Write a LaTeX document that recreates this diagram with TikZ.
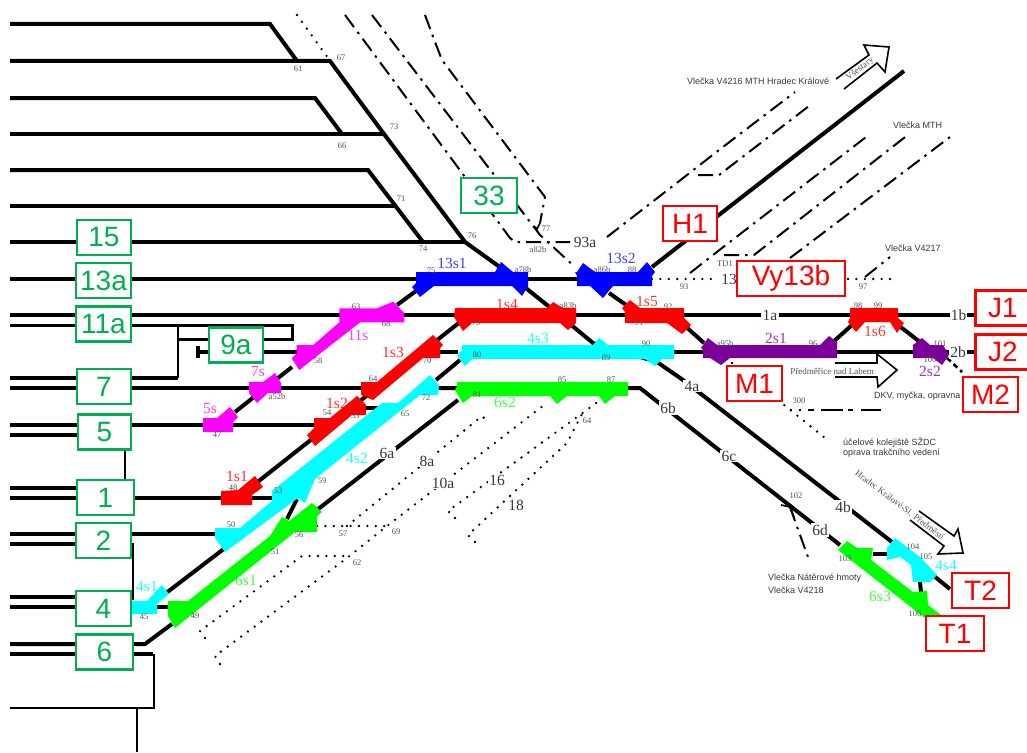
\documentclass[tikz,border=0pt]{standalone}
\usepackage{fontspec}
\setmainfont{Liberation Serif}
\setsansfont{Liberation Sans}
\definecolor{boxgreen}{HTML}{00B050}
\definecolor{trackpurple}{HTML}{7B0099}
\definecolor{labpurple}{HTML}{A030C0}
\definecolor{smallgrey}{HTML}{505050}
\definecolor{trackcyan}{HTML}{00FFFF}
\definecolor{trackmag}{HTML}{FF00FF}
\definecolor{trackgreen}{HTML}{00FF00}
\definecolor{trackred}{HTML}{FF0000}
\definecolor{trackblue}{HTML}{0000FF}
\definecolor{labblue}{HTML}{4040FF}
\definecolor{labred}{HTML}{FF3030}
\definecolor{labgreen}{HTML}{40FF40}
\definecolor{labcyan}{HTML}{20FFFF}
\definecolor{labmag}{HTML}{FF40FF}
\tikzset{
  track/.style={line width=4pt,black},
  thinline/.style={line width=2pt,black},
  dotline/.style={line width=2.6pt,line cap=round,dash pattern=on 0pt off 8.4pt},
  dashdotline/.style={line width=2pt,dash pattern=on 15pt off 6pt on 2.5pt off 6pt},
  outline/.style={line width=1.6pt,black,line join=miter},
  gbox/.style={draw=boxgreen,line width=2.5pt,fill=white,inner sep=0pt,minimum width=#1,minimum height=35pt,font=\sffamily\fontsize{28}{28}\selectfont,text=boxgreen},
  gbox/.default=55pt,
  rbox/.style={draw=trackred,line width=2.5pt,fill=white,inner sep=0pt,minimum width=#1,minimum height=35pt,font=\sffamily\fontsize{28}{28}\selectfont,text=trackred},
  rbox/.default=55pt,
  tracklab/.style={fill=white,inner sep=1.2pt,font=\fontsize{15.5}{15.5}\selectfont,text=smallgrey!70!black},
  colab/.style={inner sep=0pt,font=\fontsize{15.5}{15.5}\selectfont},
  smalllab/.style={inner sep=0pt,font=\fontsize{8.5}{8.5}\selectfont,text=smallgrey},
  note/.style={inner sep=0pt,font=\sffamily\fontsize{9}{10}\selectfont,text=smallgrey!70!black},
  serifnote/.style={inner sep=0pt,font=\fontsize{9}{9}\selectfont,text=smallgrey},
}
\begin{document}
\begin{tikzpicture}[x=1pt,y=-1pt]
\useasboundingbox (0,0) rectangle (1027,752);
\fill[white] (0,0) rectangle (1027,752);
% main horizontal tracks, left yard
\draw[track] (10,24) -- (270,24) -- (297,61);
\draw[track] (10,61) -- (330,61) -- (384,134) -- (465,242) -- (497,265) -- (547,305) -- (593,343) -- (657,362) -- (683,380) -- (892,542) -- (950,589);
\draw[track] (10,98) -- (315,98) -- (342,134);
\draw[track] (10,134) -- (384,134);
\draw[track] (10,170) -- (368,170) -- (423,242);
\draw[track] (10,206) -- (395,206);
\draw[track] (10,242) -- (465,242);
\draw[track] (10,279) -- (416,279);
\draw[track] (528,279) -- (577,279);
\draw[track] (10,315) -- (975,315);
\draw[track] (198,352) -- (300,352);
\draw[track] (197.5,346) -- (197.5,358);
\draw[track] (440,352) -- (458,352);
\draw[track] (674,352) -- (975,352);
\draw[track] (10,388) -- (361,388);
\draw[track] (438,388) -- (640,388) -- (840,545);
\draw[track] (10,425) -- (314,425);
\draw[track] (366,408) -- (383,408);
\draw[track] (10,498) -- (272,498);
\draw[track] (10,534) -- (215,534);
\draw[track] (10,488) -- (78,488);
\draw[track] (10,435) -- (78,435);
\draw[track] (10,378) -- (178,378);
\draw[track] (10,544) -- (78,544);
\draw[track] (10,597) -- (78,597);
\draw[track] (10,607) -- (168,607);
\draw[track] (10,644) -- (145,644) -- (172,624);
\draw[track] (10,654) -- (153,654);
\draw[track] (317,510) -- (458,400);
\draw[track] (157,600) -- (225,548);
\draw[track] (436,380) -- (460,360);
\draw[track] (255,484) -- (460,322);
\draw[track] (235,412) -- (292,367);
\draw[track] (397,305) -- (420,288);
\draw[track] (287,519) -- (297,499);
\draw[track] (609,293) -- (629,307);
\draw[track] (684,325) -- (704,343);
\draw[track] (833,342) -- (852,325);
\draw[track] (898,325) -- (920,342);
\draw[track] (652,267) -- (904,71);
\draw[track] (873,554) -- (887,554);
\draw[track] (920,582) -- (921,592);
% thin connecting lines
\draw[line width=3pt] (10,325) -- (292,325) -- (292,339) -- (178,339);
\draw[thinline] (178,325) -- (178,378);
\draw[thinline] (125,449) -- (125,480);
\draw[thinline] (133,543) -- (133,600);
\draw[thinline] (153.5,654) -- (153.5,708) -- (10,708);
\draw[thinline] (137,708) -- (137,752);
% dash-dotted sidings
\draw[dotline] (297,15) -- (328,58);
\draw[dashdotline] (345,15) -- (465,177) -- (510,238) -- (515,242) -- (570,242);
\draw[dashdotline] (372,15) -- (540,235) -- (575,267);
\draw[dashdotline] (425,15) -- (435,42) -- (442,60) -- (545,197) -- (540,223);
\draw[line width=1.6pt] (534,226) -- (537,229) -- (540,223);
\draw[dashdotline] (607,237) -- (687,175) -- (719,150) -- (795,92);
\draw[dashdotline] (698,175) -- (719,175) -- (809,106);
\draw[dashdotline] (690,273) -- (722,248) -- (870,134);
\draw[dashdotline] (724,255) -- (754,255) -- (909,134);
\draw[dashdotline] (790,258) -- (954,134);
\draw[dashdotline] (865,277) -- (890,257);
\draw[dashdotline] (790,507) -- (809,560);
\draw[line width=1.6pt] (781,505) -- (790,507) -- (794,517);
\draw[line width=2.6pt,dash pattern=on 5pt off 4pt] (947,358) -- (962,372);
\draw[line width=2.6pt,dash pattern=on 2pt off 7pt on 2pt off 7pt on 6pt off 7pt on 22pt off 5pt on 5pt off 8pt on 20pt off 100pt] (790,410) -- (892,410);
% dotted sidings
\draw[dotline] (652,279) -- (718,279);
\draw[dotline] (848,279) -- (898,279);
\draw[dotline] (732,363) -- (830,442);
\draw[dotline] (205,638) -- (200,631) -- (302,556) -- (347,556);
\draw[dotline] (220,664) -- (215,656) -- (347,558) -- (387,526) -- (548,402);
\draw[dotline] (317,526) -- (387,526);
\draw[dotline] (347,526) -- (482,416) -- (487,421);
\draw[dotline] (455,518) -- (448,511) -- (599,401);
\draw[dotline] (475,542) -- (468,535) -- (567,443) -- (582,414);
% hollow arrows
\draw[outline] (836,79) -- (869,55) -- (864,45) -- (889,47) -- (885,72) -- (877,63) -- (844,89);
\draw[outline] (835,363) -- (877,363) -- (877,354) -- (897,370) -- (878,387) -- (877,377) -- (835,377);
\draw[outline] (919,511) -- (954,536) -- (958,529) -- (963,553) -- (938,554) -- (944,546) -- (910,520);
% coloured labels, partly covered by the sections
\foreach \t/\x/\y/\c in {13s1/452/263/labblue,13s2/621/258/labblue,1s4/507/304/labred,1s5/647/301/labred,1s6/875/331/labred,4s3/538/338/labcyan,2s1/776/338/labpurple,2s2/930/371/labpurple,11s/358/335/labmag,7s/258/371/labmag,5s/210/408/labmag,1s1/237/476/labred,1s2/337/403/labred,1s3/393/352/labred,4s2/357/458/labcyan,4s1/147/586/labcyan,6s1/246/580/labgreen,6s2/505/402/labgreen,6s3/880/596/labgreen,4s4/946/565/labcyan}
  \node[colab,text=\c] (c\t) at (\x,\y) {\t};
% coloured sections
\fill[trackmag] (339.3,308.3) -- (376.7,308.3) -- (393.3,301.7) -- (404.3,313.3) -- (404.3,322.3) -- (360,322.3) -- (318.3,355) -- (299.3,370) -- (291.7,358.3) -- (296.7,353.3) -- (296.7,345) -- (313.3,345) -- (339.3,322.3) -- cycle;
\fill[trackmag] (249,382) -- (263,382) -- (275,373) -- (281,383) -- (281,393) -- (268,393) -- (257,403) -- (249,393) -- cycle;
\fill[trackmag] (203,418) -- (217,418) -- (230,407) -- (238,417) -- (233,422) -- (233,432) -- (203,432) -- cycle;
\fill[trackred] (221,491) -- (238,490) -- (255,476) -- (263,487) -- (252,495) -- (252,505) -- (221,505) -- cycle;
\fill[trackred] (314,418) -- (330,418) -- (357,396) -- (366,405) -- (366,415) -- (352,415) -- (315,446) -- (307,435) -- (314,428) -- cycle;
\fill[trackred] (361,382) -- (377,382) -- (433,335) -- (443,345) -- (440,348) -- (440,358) -- (423,358) -- (373,400) -- (361,395) -- cycle;
\fill[trackcyan] (430,375) -- (439,385) -- (438,395) -- (420,395) -- (315,479) -- (305,503) -- (298,498) -- (225,552) -- (215,538) -- (215,528) -- (240,528) -- (272,501) -- (272,491) -- (382,403) -- (398,403) -- cycle;
\fill[trackcyan] (132,601) -- (147,601) -- (162,585) -- (169,594) -- (157,604) -- (157,614) -- (132,614) -- cycle;
\fill[trackgreen] (168,601) -- (188,601) -- (270,536) -- (282,517) -- (289,521) -- (312,503) -- (322,512) -- (317,516) -- (317,532) -- (295,532) -- (175,628) -- (168,616) -- cycle;
\fill[trackcyan] (462,345) -- (593,345) -- (599,338) -- (608,345) -- (674,345) -- (674,359) -- (662,359) -- (655,366) -- (645,359) -- (472,359) -- (465,366) -- (457,355) -- (462,350) -- cycle;
\fill[trackred] (455,308) -- (547,308) -- (553,302) -- (563,308) -- (576,308) -- (576,323) -- (568,330) -- (560,323) -- (472,323) -- (463,331) -- (454,317) -- cycle;
\fill[trackblue] (416,272) -- (495,272) -- (501,262) -- (513,272) -- (528,272) -- (528,286) -- (522,296) -- (512,286) -- (434,286) -- (420,297) -- (412,287) -- (416,283) -- cycle;
\fill[trackblue] (577,272) -- (583,263) -- (595,272) -- (638,272) -- (647,262) -- (655,272) -- (652,276) -- (652,286) -- (613,286) -- (603,298) -- (590,286) -- (577,286) -- (577,276) -- (575,272) -- cycle;
\fill[trackred] (622,308) -- (630,300) -- (640,308) -- (684,308) -- (684,318) -- (691,325) -- (682,334) -- (667,323) -- (625,323) -- (625,312) -- cycle;
\fill[trackred] (850,308) -- (898,308) -- (898,318) -- (904,323) -- (897,333) -- (890,322) -- (865,322) -- (856,332) -- (848,322) -- (850,318) -- cycle;
\fill[trackpurple] (701,348) -- (708,338) -- (717,345) -- (820,345) -- (829,336) -- (837,342) -- (837,358) -- (730,358) -- (721,365) -- (710,358) -- (703,358) -- (703,350) -- cycle;
\fill[trackpurple] (913,345) -- (922,338) -- (930,345) -- (943,345) -- (949,355) -- (942,365) -- (933,358) -- (913,358) -- cycle;
\fill[trackgreen] (457,382) -- (628,382) -- (628,396) -- (615,396) -- (605,404) -- (599,396) -- (567,396) -- (557,404) -- (550,396) -- (472,396) -- (463,403) -- (455,390) -- (457,386) -- cycle;
\fill[trackgreen] (838,550) -- (847,541) -- (857,548) -- (873,548) -- (871,560) -- (913,592) -- (927,591) -- (928,605) -- (945,618) -- (925,618) -- cycle;
\fill[trackcyan] (895,538) -- (920,557) -- (937,575) -- (930,582) -- (913,582) -- (911,565) -- (900,557) -- (887,560) -- (887,548) -- cycle;
% track labels
\node[tracklab] (t1a) at (770,315) {1a};
\node[tracklab] (t1b) at (958.5,315) {1b};
\node[tracklab] (t2b) at (958,352) {2b};
\node[tracklab] (t4a) at (692,386) {4a};
\node[tracklab] (t6b) at (668,408) {6b};
\node[tracklab] (t6c) at (729,456) {6c};
\node[tracklab] (t4b) at (843,507) {4b};
\node[tracklab] (t6d) at (820,530) {6d};
\node[tracklab] (t6a) at (387,453) {6a};
\node[tracklab] (t8a) at (427,461) {8a};
\node[tracklab] (t10a) at (443,483) {10a};
\node[tracklab] (t16) at (497,480) {16};
\node[tracklab] (t18) at (516,505) {18};
\node[tracklab] (t93a) at (585,242) {93a};
\node[tracklab] (t13) at (729,279) {13};
% small numbers
\foreach \t/\n/\x/\y in {61/a/298/69,67/a/341/58,73/a/394/127,66/a/342/146,71/a/401/199,74/a/423/249,76/a/472/236,75/a/431/271,a78b/a/523/270,77/a/546/229,a82b/a/538/250,a86b/a/602/270,88/a/632/270,93/a/684/287,TD1/a/725/264,97/a/863/287,98/a/858/306,99/a/878/306,a83b/a/568/306,92/a/668/307,91/a/639/323,a95b/a/725/344,96/a/813/344,101/a/940/344,100/a/930/360,90/a/646/344,89/a/606/358,79/a/476/323,80/a/477/355,81/a/477/395,85/a/562/380,87/a/611/380,72/a/426/398,65/a/405/414,70/a/427/361,64/a/373/379,63/a/356/307,68/a/386/324,58/a/318/361,a52b/a/277/397,54/a/327/413,55/a/355/416,47/a/217/435,48/a/233/488,53/a/278/491,59/a/322/481,50/a/231/525,56/a/299/535,51/a/275/552,57/a/343/534,69/a/396/532,62/a/357/563,45/a/144/617,49/a/195/616,64/b/587/421,300/a/799/401,102/a/796/496,103/a/845/559,104/a/913/547,105/a/926/557,106/a/915/614}
  \node[smalllab] (s\t\n) at (\x,\y) {\t};
% notes
\node[note,anchor=west] (nv4216) at (687,81) {Vlečka V4216 MTH Hradec Králové};
\node[note,anchor=west] (nmth) at (893,125) {Vlečka MTH};
\node[note,anchor=west] (nv4217) at (885,248) {Vlečka V4217};
\node[note,anchor=west] (ndkv) at (874,396) {DKV, myčka, opravna};
\node[note,anchor=west,align=left] (nucel) at (843,447.5) {účelové kolejiště SŽDC\\oprava trakčního vedení};
\node[note,anchor=west] (nnater) at (768,578) {Vlečka Nátěrové hmoty};
\node[note,anchor=west] (nv4218) at (768,590) {Vlečka V4218};
\node[serifnote,rotate=37] (nvsest) at (860,69) {Všestary};
\node[serifnote] (npredm) at (832,371) {Předměřice nad Labem};
\node[serifnote,rotate=-37] (nhradec) at (900,505) {Hradec Králové-Sl. Předměstí};
% station boxes
\node[gbox=54pt] (b15) at (104,237.5) {15};
\node[gbox=55pt] (b13a) at (103.5,280.5) {13a};
\node[gbox=55pt] (b11a) at (103.5,324) {11a};
\node[gbox=54pt] (b9a) at (236,345) {9a};
\node[gbox=56pt] (b33) at (489,195.5) {33};
\node[gbox=54pt] (b7) at (104,386.5) {7};
\node[gbox=53pt] (b5) at (104.5,432) {5};
\node[gbox=57pt] (b1) at (105.5,497.5) {1};
\node[gbox=55pt] (b2) at (103.5,540.5) {2};
\node[gbox=55pt] (b4) at (103.5,608.5) {4};
\node[gbox=57pt] (b6) at (104.5,652) {6};
\node[rbox=54pt] (bH1) at (690,223.5) {H1};
\node[rbox=108pt] (bVy) at (791,278.5) {Vy13b};
\node[rbox=55pt] (bJ1) at (1003,308) {J1};
\node[rbox=55pt] (bJ2) at (1003,352) {J2};
\node[rbox=55pt] (bM1) at (754.5,383.5) {M1};
\node[rbox=55pt] (bM2) at (990.5,394.5) {M2};
\node[rbox=57pt] (bT2) at (980.5,590.5) {T2};
\node[rbox=58pt] (bT1) at (955,633.5) {T1};
\end{tikzpicture}
\end{document}
